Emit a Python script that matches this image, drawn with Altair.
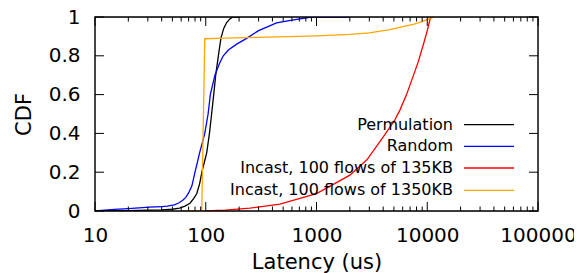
import altair as alt
import pandas as pd

# ---- data ----
series_names = ["Permulation", "Random", "Incast, 100 flows of 135KB", "Incast, 100 flows of 1350KB"]
series_colors = ["#000000", "#0000ff", "#ff0000", "#ffa500"]

perm_x = [10, 20, 30, 40, 50, 58, 65, 72, 78, 83, 88, 93, 97, 102, 108, 113, 118, 123, 130, 137, 145, 154, 165, 176, 200]
perm_y = [0.0, 0.002, 0.004, 0.006, 0.009, 0.015, 0.025, 0.04, 0.065, 0.09, 0.14, 0.21, 0.25, 0.30, 0.40, 0.50, 0.60, 0.70, 0.80, 0.89, 0.94, 0.97, 0.99, 1.0, 1.0]

rand_x = [10, 15, 20, 31, 40, 45, 52, 57, 62, 66, 70, 75, 80, 88, 98, 105, 110, 121, 133, 144, 160, 190, 234, 300, 436, 550, 708, 900, 2000]
rand_y = [0.0, 0.008, 0.012, 0.02, 0.023, 0.025, 0.032, 0.041, 0.055, 0.07, 0.093, 0.13, 0.20, 0.30, 0.40, 0.50, 0.60, 0.70, 0.76, 0.80, 0.83, 0.86, 0.89, 0.93, 0.97, 0.98, 0.99, 1.0, 1.0]

i135_x = [97, 150, 250, 468, 708, 1000, 1406, 2000, 2850, 3980, 5100, 5660, 6500, 7410, 8300, 9310, 10000, 10720]
i135_y = [0.0, 0.005, 0.015, 0.035, 0.065, 0.09, 0.136, 0.185, 0.264, 0.38, 0.47, 0.52, 0.60, 0.69, 0.77, 0.866, 0.93, 1.0]

i1350_x = [62, 80, 92, 98, 150, 300, 1000, 2000, 3000, 4600, 6000, 7500, 9100, 10500, 11500]
i1350_y = [0.0, 0.0, 0.0, 0.888, 0.891, 0.895, 0.903, 0.91, 0.918, 0.935, 0.95, 0.962, 0.977, 0.992, 1.0]

x_major = [10, 100, 1000, 10000, 100000]
x_minor = [m * d for d in [10, 100, 1000, 10000] for m in range(2, 10)]
y_major = [0, 0.2, 0.4, 0.6, 0.8, 1]

# ---- build table ----
rows = []
for name, xs, ys in zip(series_names, [perm_x, rand_x, i135_x, i1350_x], [perm_y, rand_y, i135_y, i1350_y]):
    for i, (a, b) in enumerate(zip(xs, ys)):
        rows.append({"series": name, "x": a, "y": b, "i": i})
df = pd.DataFrame(rows)

W, H = 443, 194
FONT = "DejaVu Sans"

xscale = alt.Scale(type="log", domain=[10, 100000], nice=False)
yscale = alt.Scale(domain=[0, 1], nice=False)

x_axis = alt.Axis(values=x_major, labelExpr="'' + datum.value", ticks=False, grid=False,
                  domain=False, labelFontSize=20, labelFont=FONT, labelColor="black",
                  labelPadding=14, title="Latency (us)", titleFont=FONT, titleFontSize=21,
                  titleFontWeight="normal", titleColor="black", titlePadding=6,
                  labelFlush=False, labelOverlap=False)
y_axis = alt.Axis(values=y_major, labelExpr="'' + datum.value", ticks=False, grid=False,
                  domain=False, labelFontSize=20, labelFont=FONT, labelColor="black",
                  labelPadding=15, title="CDF", titleFont=FONT, titleFontSize=21,
                  titleFontWeight="normal", titleColor="black", titlePadding=14,
                  labelFlush=False, labelOverlap=False)

lines = alt.Chart(df).mark_line(strokeWidth=1.3, clip=True).encode(
    x=alt.X("x:Q", scale=xscale, axis=x_axis),
    y=alt.Y("y:Q", scale=yscale, axis=y_axis),
    color=alt.Color("series:N", scale=alt.Scale(domain=series_names, range=series_colors), legend=None),
    order="i:Q",
)

maj_df = pd.DataFrame({"x": x_major})
min_df = pd.DataFrame({"x": x_minor})
ymaj_df = pd.DataFrame({"y": y_major})

tick_layers = []
for d, ln in [(maj_df, 9), (min_df, 4.5)]:
    tick_layers.append(alt.Chart(d).mark_rule(color="black", strokeWidth=1).encode(
        x=alt.X("x:Q", scale=xscale, axis=x_axis), y=alt.value(H), y2=alt.value(H - ln)))
    tick_layers.append(alt.Chart(d).mark_rule(color="black", strokeWidth=1).encode(
        x=alt.X("x:Q", scale=xscale, axis=x_axis), y=alt.value(0), y2=alt.value(ln)))
tick_layers.append(alt.Chart(ymaj_df).mark_rule(color="black", strokeWidth=1).encode(
    y=alt.Y("y:Q", scale=yscale, axis=y_axis), x=alt.value(0), x2=alt.value(9)))
tick_layers.append(alt.Chart(ymaj_df).mark_rule(color="black", strokeWidth=1).encode(
    y=alt.Y("y:Q", scale=yscale, axis=y_axis), x=alt.value(W - 9), x2=alt.value(W)))

frame = alt.Chart(pd.DataFrame({"k": [0]})).mark_rect(fillOpacity=0, stroke="black", strokeWidth=1.4).encode(
    x=alt.value(0), x2=alt.value(W), y=alt.value(0), y2=alt.value(H))

# legend (gnuplot style: text then line sample)
legend_layers = []
row_y = [107.7, 129.4, 151.0, 173.4]
for name, col, ry in zip(series_names, series_colors, row_y):
    ld = pd.DataFrame({"label": [name]})
    legend_layers.append(alt.Chart(ld).mark_text(align="right", baseline="middle", font=FONT,
                                                 fontSize=16, color="black").encode(
        text="label:N", x=alt.value(358), y=alt.value(ry)))
    legend_layers.append(alt.Chart(ld).mark_rule(color=col, strokeWidth=1.3).encode(
        x=alt.value(369), x2=alt.value(419), y=alt.value(ry)))

chart = alt.layer(lines, *tick_layers, frame, *legend_layers).properties(
    width=W, height=H,
    autosize=alt.AutoSizeParams(type="none"),
    padding={"left": 87, "top": 9, "right": 36, "bottom": 62},
).configure_view(strokeWidth=0).configure(background="white")

chart.save("out.html", embed_options={"renderer": "svg", "actions": False})
